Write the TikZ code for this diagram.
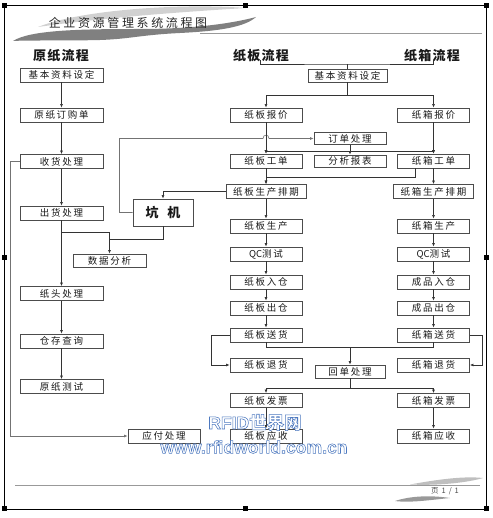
\documentclass[tikz,border=0pt]{standalone}
\usepackage{fontspec}
\newfontfamily\cjk[LetterSpace=18]{Noto Sans CJK SC}
\newfontfamily\cjkt[LetterSpace=22]{Noto Sans CJK SC}
\newfontfamily\cjkh[LetterSpace=10]{Noto Sans CJK SC}
\newfontfamily\cjkw{Noto Sans CJK SC}
\newfontfamily\wmfont{Liberation Sans}
\usetikzlibrary{arrows.meta}
\newcommand{\outlinetext}[1]{\special{pdf:literal direct 2 Tr 0.55 w 0.30 0.47 0.75 RG}#1\special{pdf:literal direct 0 Tr}}
\tikzset{
  box/.style={draw=black!70, line width=0.7pt, inner sep=0pt, minimum height=14pt,
    font=\cjk\fontsize{9.5}{10}\selectfont, text=black!90},
  lbox/.style={box, minimum width=83pt},
  rbox/.style={box, minimum width=72pt},
  wbox/.style={box, minimum width=80pt},
  mbox/.style={box, minimum width=72pt, minimum height=12pt},
  head/.style={font=\cjkh\bfseries\fontsize{13}{14}\selectfont, text=black!90, inner sep=0pt},
  conn/.style={line width=0.6pt, draw=black!80},
  arr/.style={conn, -{Latex[length=3.5pt,width=2.8pt]}},
  garr/.style={line width=0.6pt, draw=black!55, -{Latex[length=3.5pt,width=2.8pt]}},
  handle/.style={fill=black, draw=none},
  wmark/.style={text=white, inner sep=0pt},
}
\begin{document}
\begin{tikzpicture}[x=1pt,y=-1pt]
\useasboundingbox (0,0) rectangle (492,518);
% header decoration
\fill[black!18] (38,27) .. controls (80,10) and (180,3) .. (246,8) .. controls (180,12) and (100,18) .. (38,27) -- cycle;
\fill[black!50] (13,41) .. controls (30,30) and (80,29) .. (140,29) .. controls (190,29) and (230,24) .. (256,17)
  .. controls (245,27) and (220,31) .. (180,33) .. controls (140,35) and (130,39) .. (100,40) .. controls (60,41) and (30,40) .. (13,41) -- cycle;
\draw[black!40, line width=1pt] (200,33.5) -- (482,33.5);
\node[font=\cjkt\fontsize{12}{13}\selectfont, text=black!85, inner sep=0pt] (title) at (128,23) {企业资源管理系统流程图};
% footer decoration
\draw[black!40, line width=1pt] (15,485) -- (480,485);
\fill[black!25] (410,484.5) .. controls (440,479) and (465,476) .. (483,478) .. controls (470,482) and (440,486) .. (410,484.5) -- cycle;
\fill[black!40] (395,501) .. controls (410,496) and (430,495) .. (450,498) .. controls (430,500) and (410,503) .. (395,501) -- cycle;
\node[font=\cjkw\fontsize{7.5}{8}\selectfont, text=black!70, inner sep=0pt] (page) at (445,491) {页\hspace{3pt}1\hspace{3pt}/\hspace{3pt}1};
% frame
\draw[black, line width=0.9pt] (4.5,5) rectangle (486.5,509.5);
\foreach \hx/\hy in {4.5/6, 245.5/6, 486.5/6, 4.5/257, 486.5/257, 4.5/508, 245.5/508, 486.5/508}
  \fill[handle] (\hx-2.8,\hy-2.5) rectangle (\hx+2.8,\hy+2.5);
% headers
\node[head] (H1) at (61,56) {原纸流程};
\node[head] (H2) at (261,56) {纸板流程};
\node[head] (H3) at (432,56) {纸箱流程};
% left column
\node[lbox] (L1) at (61.5,75) {基本资料设定};
\node[lbox] (L2) at (61.5,115) {原纸订购单};
\node[lbox] (L3) at (61.5,161.5) {收货处理};
\node[lbox] (L4) at (61.5,213) {出货处理};
\node[lbox] (L5) at (61.5,293.5) {纸头处理};
\node[lbox] (L6) at (61.5,341) {仓存查询};
\node[lbox] (L7) at (61.5,386.5) {原纸测试};
\node[box, minimum width=73pt, minimum height=13pt] (DA) at (109.5,260.5) {数据分析};
\node[box, minimum width=60pt, minimum height=27pt, font=\cjkw\bfseries\fontsize{13}{14}\selectfont] (KJ) at (163,212.5) {坑\hspace{9pt}机};
\node[rbox] (YF) at (164,436) {应付处理};
% board column
\node[rbox] (B1) at (266,115) {纸板报价};
\node[rbox] (B2) at (266,161) {纸板工单};
\node[wbox] (B3) at (266,191.5) {纸板生产排期};
\node[rbox] (B4) at (266,226) {纸板生产};
\node[rbox] (B5) at (266,254) {{\cjkw QC}测试};
\node[rbox] (B6) at (266,282) {纸板入仓};
\node[rbox] (B7) at (266,308) {纸板出仓};
\node[rbox] (B8) at (266,335) {纸板送货};
\node[rbox] (B9) at (266,365) {纸板退货};
\node[rbox] (B10) at (266,400.5) {纸板发票};
\node[rbox] (B11) at (266,436) {纸板应收};
% box column
\node[rbox] (C1) at (433.5,115) {纸箱报价};
\node[rbox] (C2) at (433.5,161) {纸箱工单};
\node[wbox] (C3) at (433.5,191.5) {纸箱生产排期};
\node[rbox] (C4) at (433.5,226) {纸箱生产};
\node[rbox] (C5) at (433.5,254) {{\cjkw QC}测试};
\node[rbox] (C6) at (433.5,282) {成品入仓};
\node[rbox] (C7) at (433.5,308) {成品出仓};
\node[rbox] (C8) at (433.5,335) {纸箱送货};
\node[rbox] (C9) at (433.5,365) {纸箱退货};
\node[rbox] (C10) at (433.5,400.5) {纸箱发票};
\node[rbox] (C11) at (433.5,436) {纸箱应收};
% middle
\node[box, minimum width=79pt, minimum height=13pt] (M0) at (347.5,75.5) {基本资料设定};
\node[mbox] (M1) at (350,138.5) {订单处理};
\node[mbox] (M2) at (350,161) {分析报表};
\node[box, minimum width=70pt, minimum height=13pt] (M3) at (350,371.5) {回单处理};
% junction coordinates
\coordinate (j1) at (61.5,232);
\coordinate (j2) at (109.5,239);
\coordinate (j3) at (10.5,436);
\coordinate (j4) at (119.5,138.5);
\coordinate (j5) at (347.5,95);
\coordinate (j6) at (350,151.5);
\coordinate (j7) at (266,177);
\coordinate (j8) at (350,347);
\coordinate (j9) at (350,388);
\coordinate (hb1) at (260,60);
\coordinate (hb2) at (433.5,60);
\coordinate (hbm) at (347.5,64);
% left connectors
\draw[arr] (L1) -- (L2);
\draw[arr] (L2) -- (L3);
\draw[arr] (L3) -- (L4);
\draw[arr] (L4) -- (L5);
\draw[arr] (L5) -- (L6);
\draw[arr] (L6) -- (L7);
\draw[arr] (j1) -| (DA.north);
\draw[conn] (KJ.south) |- (j2);
\draw[garr] (L3.west) -| (j3) -- (YF.west);
\draw[garr] (KJ.west) -| (j4) -- (263,138.5) .. controls (263,134) and (269,134) .. (269,138.5) -- (M1.west);
\draw[arr] (B3.west) -| (KJ.north);
% header bracket
\draw[conn] (hb1) |- (hbm) -| (hb2);
\draw[conn] (M0.north) -- (hbm);
% board/box connectors
\draw[conn] (M0.south) -- (j5);
\draw[arr] (j5) -| (B1.north);
\draw[arr] (j5) -| (C1.north);
\draw[arr] (B1) -- (B2);
\draw[arr] (C1) -- (C2);
\draw[conn] (M1.south) -- (j6);
\draw[arr] (j6) -- (M2.north);
\draw[arr] (j6) -| (B2.north);
\draw[arr] (j6) -| (C2.north);
\draw[arr] (B2) -- (B3);
\draw[arr] ([xshift=18pt]C2.south west) |- (j7) -- (B3.north);
\draw[arr] (C2) -- (C3);
\draw[arr] (B3) -- (B4);
\draw[arr] (C3) -- (C4);
\draw[arr] (B4) -- (B5);
\draw[arr] (B5) -- (B6);
\draw[arr] (B6) -- (B7);
\draw[arr] (B7) -- (B8);
\draw[arr] (C4) -- (C5);
\draw[arr] (C5) -- (C6);
\draw[arr] (C6) -- (C7);
\draw[arr] (C7) -- (C8);
\draw[arr] (B8.west) -- ++(-18,0) |- (B9.west);
\draw[arr] (C8.east) -- ++(12,0) |- (C9.east);
\draw[conn] (B8.south) |- (j8);
\draw[conn] (C8.south) |- (j8);
\draw[arr] (j8) -- (M3.north);
\draw[conn] (M3.south) -- (j9);
\draw[arr] (j9) -| (B10.north);
\draw[arr] (j9) -| (C10.north);
\draw[arr] (B10) -- (B11);
\draw[arr] (C10) -- (C11);
% watermark
\node[wmark] (wm1) at (255,422.5) {\outlinetext{\wmfont\bfseries\fontsize{17.5}{18}\selectfont RFID\cjkw\bfseries 世界网}};
\node[wmark] (wm2) at (254,447) {\outlinetext{\wmfont\bfseries\fontsize{17.6}{19}\selectfont www.rfidworld.com.cn}};
\end{tikzpicture}
\end{document}
